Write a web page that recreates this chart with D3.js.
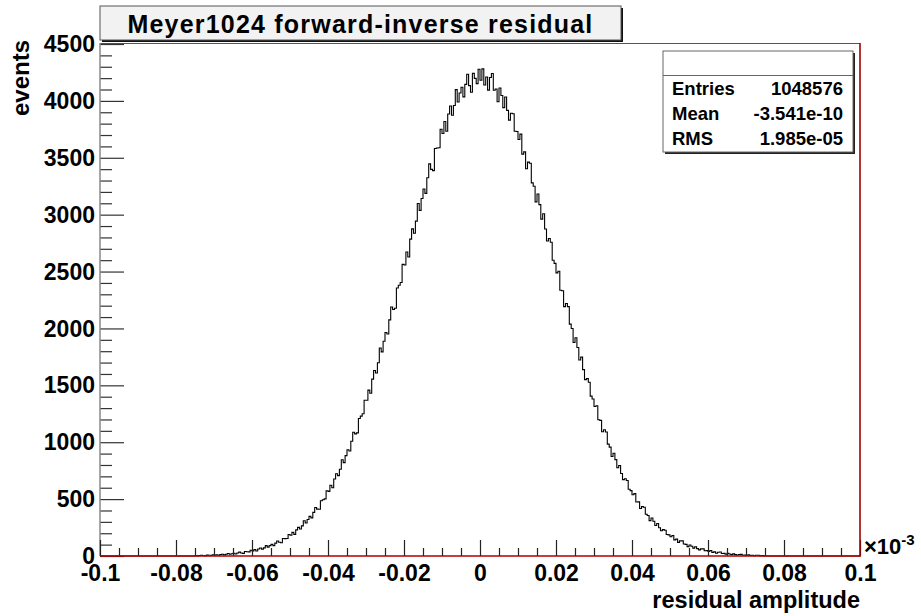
<!DOCTYPE html>
<html>
<head>
<meta charset="utf-8">
<script src="https://cdn.jsdelivr.net/npm/d3@7"></script>
<style>
  html, body { margin: 0; padding: 0; background: #ffffff; }
  svg { display: block; }
  text { font-family: "Liberation Sans", Arial, Helvetica, sans-serif; font-weight: bold; fill: #000; }
</style>
</head>
<body>
<svg id="chart" width="921" height="616"></svg>
<script>
// Histogram of forward-inverse residuals (x in units of 1e-3)
const titleText = "Meyer1024 forward-inverse residual";
const xTitle = "residual amplitude";
const yTitle = "events";
const xDomain = [-0.1, 0.1];
const yDomain = [0, 4500];
const xMajorTicks = [-0.1, -0.08, -0.06, -0.04, -0.02, 0, 0.02, 0.04, 0.06, 0.08, 0.1];
const yMajorTicks = [0, 500, 1000, 1500, 2000, 2500, 3000, 3500, 4000, 4500];
const xMinorStep = 0.005;
const yMinorStep = 100;

// filled bins start here; everything outside is empty
const binStart = -0.075;
const binWidth = 0.0005;
const counts = [
  4, 1, 5, 7, 4, 2, 8, 6, 5, 11, 7, 11, 6, 13, 15, 10, 15, 22, 15, 20,
  24, 18, 27, 34, 27, 23, 39, 38, 36, 51, 45, 56, 44, 62, 70, 60, 71, 91, 78, 91,
  102, 91, 113, 132, 121, 117, 154, 153, 154, 189, 182, 208, 190, 230, 252, 237, 265, 310, 290, 321,
  348, 335, 383, 426, 412, 411, 486, 494, 502, 573, 568, 622, 600, 677, 723, 706, 762, 846, 821, 882,
  934, 923, 1008, 1087, 1073, 1082, 1209, 1229, 1250, 1369, 1369, 1458, 1431, 1555, 1630, 1609, 1699, 1828, 1794, 1888,
  1965, 1951, 2075, 2188, 2167, 2178, 2355, 2380, 2404, 2563, 2557, 2672, 2628, 2785, 2875, 2837, 2943, 3098, 3038, 3142,
  3225, 3187, 3325, 3446, 3398, 3387, 3581, 3586, 3588, 3751, 3713, 3819, 3733, 3885, 3955, 3874, 3959, 4099, 3990, 4069,
  4120, 4035, 4145, 4234, 4134, 4076, 4242, 4198, 4152, 4278,
  4181, 4281, 4140, 4210, 4095, 4205, 4241, 4094, 4105, 3993,
  4113, 4047, 3941, 4034, 3917, 3831, 3891, 3887, 3733, 3731, 3660, 3708, 3532, 3552, 3404, 3462, 3452, 3279, 3250, 3112,
  3181, 3088, 2961, 3008, 2874, 2769, 2790, 2757, 2600, 2572, 2488, 2503, 2336, 2331, 2192, 2219, 2192, 2038, 2000, 1877,
  1918, 1833, 1723, 1748, 1638, 1550, 1559, 1527, 1405, 1380, 1314, 1321, 1198, 1192, 1092, 1109, 1090, 983, 957, 874,
  903, 847, 776, 795, 725, 671, 679, 663, 587, 575, 538, 548, 474, 476, 418, 434, 428, 367, 356, 311,
  334, 305, 268, 285, 248, 222, 232, 226, 189, 186, 169, 180, 142, 148, 120, 133, 133, 105, 102, 82,
  97, 86, 69, 81, 65, 54, 63, 63, 46, 47, 41, 48, 32, 36, 24, 33, 35, 22, 23, 15,
  23, 18, 12, 19, 12, 9, 13, 14, 7, 8, 7, 10, 4, 7, 2, 7, 7, 3, 3, 1
];

// statistics box
const statNames = ["Entries", "Mean", "RMS"];
const statValues = ["1048576", "-3.541e-10", "1.985e-05"];

const svg = d3.select("#chart");
const frame = { left: 100, right: 860, top: 43, bottom: 556 };

const x = d3.scaleLinear().domain(xDomain).range([frame.left, frame.right]);
const y = d3.scaleLinear().domain(yDomain).range([frame.bottom, frame.top + 1]);

// frame outline (top edge)
svg.append("line")
  .attr("x1", frame.left).attr("x2", frame.right)
  .attr("y1", frame.top + 0.5).attr("y2", frame.top + 0.5)
  .attr("stroke", "#555").attr("stroke-width", 1.2);

// histogram as a stepped outline
const pts = [[xDomain[0], 0]];
counts.forEach((c, i) => pts.push([binStart + i * binWidth, c]));
pts.push([binStart + counts.length * binWidth, 0]);
pts.push([xDomain[1], 0]);
const line = d3.line()
  .x(d => x(d[0]))
  .y(d => y(d[1]))
  .curve(d3.curveStepAfter);
svg.append("path")
  .datum(pts)
  .attr("d", line)
  .attr("fill", "none")
  .attr("stroke", "#000")
  .attr("stroke-width", 1.1);

// minor tick positions
const xMinor = d3.range(xDomain[0], xDomain[1] + 1e-9, xMinorStep)
  .filter(v => !xMajorTicks.some(t => Math.abs(t - v) < 1e-9));
const yMinor = d3.range(yDomain[0], yDomain[1] + 1e-6, yMinorStep)
  .filter(v => v % 500 !== 0);

// y axis (ticks point into the frame)
const yAxisG = svg.append("g").attr("transform", `translate(${frame.left},0)`);
yAxisG.call(d3.axisLeft(y).tickValues(yMajorTicks).tickSize(-24).tickPadding(5).tickFormat(d3.format("d")));
yAxisG.select(".domain").remove();
yAxisG.selectAll(".tick line").attr("stroke", "#333").attr("stroke-width", 1.2);
yAxisG.selectAll(".tick text")
  .attr("font-size", 23).attr("font-family", null)
  .attr("dy", "0.33em");
const yMinorG = svg.append("g").attr("transform", `translate(${frame.left},0)`);
yMinorG.call(d3.axisLeft(y).tickValues(yMinor).tickSize(-12).tickFormat(""));
yMinorG.select(".domain").remove();
yMinorG.selectAll(".tick line").attr("stroke", "#333").attr("stroke-width", 1.2);
svg.append("line")
  .attr("x1", frame.left).attr("x2", frame.left)
  .attr("y1", frame.top).attr("y2", frame.bottom)
  .attr("stroke", "#888").attr("stroke-width", 1.5);

// x axis (ticks point up into the frame)
const fmtX = d => (Math.abs(d) < 1e-12 ? "0" : String(+d.toFixed(2)));
const xAxisG = svg.append("g").attr("transform", `translate(0,${frame.bottom})`);
xAxisG.call(d3.axisBottom(x).tickValues(xMajorTicks).tickSize(-16).tickPadding(9).tickFormat(fmtX));
xAxisG.select(".domain").remove();
xAxisG.selectAll(".tick line").attr("stroke", "#222").attr("stroke-width", 1.2);
xAxisG.selectAll(".tick text").attr("font-size", 23).attr("font-family", null);
const xMinorG = svg.append("g").attr("transform", `translate(0,${frame.bottom})`);
xMinorG.call(d3.axisBottom(x).tickValues(xMinor).tickSize(-8).tickFormat(""));
xMinorG.select(".domain").remove();
xMinorG.selectAll(".tick line").attr("stroke", "#222").attr("stroke-width", 1.2);

// bottom and right frame edges
svg.append("line")
  .attr("x1", frame.left).attr("x2", frame.right + 1)
  .attr("y1", frame.bottom).attr("y2", frame.bottom)
  .attr("stroke", "#b00000").attr("stroke-width", 1.6);
svg.append("line")
  .attr("x1", frame.right).attr("x2", frame.right)
  .attr("y1", frame.top).attr("y2", frame.bottom)
  .attr("stroke", "#a00000").attr("stroke-width", 1.6);

// exponent label
const expo = svg.append("text")
  .attr("x", frame.right + 4).attr("y", frame.bottom - 2)
  .attr("font-size", 22);
expo.append("tspan").text("\u00d710");
expo.append("tspan").attr("font-size", 15).attr("dy", -9).text("-3");

// axis titles
svg.append("text")
  .attr("x", frame.right).attr("y", 608)
  .attr("text-anchor", "end").attr("font-size", 23.5)
  .text(xTitle);
svg.append("text")
  .attr("transform", `translate(29,${frame.top - 3}) rotate(-90)`)
  .attr("text-anchor", "end").attr("font-size", 24)
  .text(yTitle);

// title box with drop shadow
const tb = { x: 100, y: 6, w: 521, h: 34 };
svg.append("rect")
  .attr("x", tb.x + 2).attr("y", tb.y + 2).attr("width", tb.w).attr("height", tb.h)
  .attr("fill", "#111");
svg.append("rect")
  .attr("x", tb.x).attr("y", tb.y).attr("width", tb.w).attr("height", tb.h)
  .attr("fill", "#f2f2f2").attr("stroke", "#555").attr("stroke-width", 1);
svg.append("text")
  .attr("x", tb.x + tb.w / 2).attr("y", tb.y + 27)
  .attr("text-anchor", "middle").attr("font-size", 25)
  .attr("letter-spacing", 1.2)
  .text(titleText);

// statistics box
const sb = { x: 663, y: 51, w: 190, h: 101 };
svg.append("rect")
  .attr("x", sb.x + 2).attr("y", sb.y + 2).attr("width", sb.w).attr("height", sb.h)
  .attr("fill", "#222");
svg.append("rect")
  .attr("x", sb.x).attr("y", sb.y).attr("width", sb.w).attr("height", sb.h)
  .attr("fill", "#fff").attr("stroke", "#666").attr("stroke-width", 1);
svg.append("line")
  .attr("x1", sb.x).attr("x2", sb.x + sb.w)
  .attr("y1", sb.y + 24.5).attr("y2", sb.y + 24.5)
  .attr("stroke", "#666").attr("stroke-width", 1);
statNames.forEach((n, i) => {
  svg.append("text")
    .attr("x", sb.x + 9).attr("y", sb.y + 44 + i * 25)
    .attr("font-size", 18.5).text(n);
  svg.append("text")
    .attr("x", sb.x + sb.w - 10).attr("y", sb.y + 44 + i * 25)
    .attr("text-anchor", "end").attr("font-size", 18.5).text(statValues[i]);
});
</script>
</body>
</html>
